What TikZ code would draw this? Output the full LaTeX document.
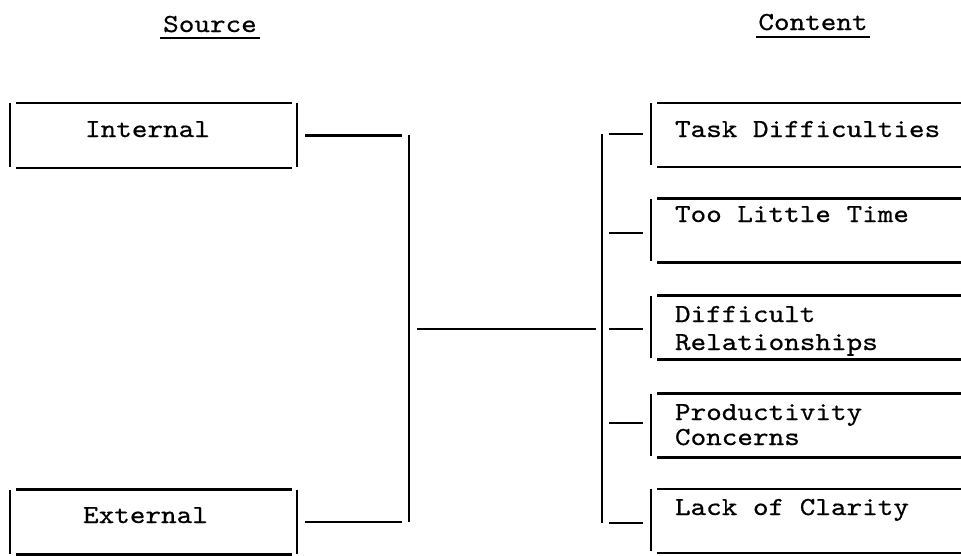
\documentclass[tikz,border=0pt]{standalone}
\usepackage{fontspec}
\setmainfont{Liberation Mono}
\newfontfamily\twfont{lmmono10-regular.otf}[FakeStretch=1.143, FakeBold=0.6]
\begin{document}
\begin{tikzpicture}[x=1pt,y=-1pt,
  box/.style={inner sep=0pt, outer sep=0pt, minimum width=287pt, minimum height=65pt},
  cbox/.style={inner sep=0pt, outer sep=0pt, minimum width=314pt, minimum height=64pt},
  hline/.style={line width=2.6pt, line cap=butt},
  vline/.style={line width=1.6pt, line cap=butt},
  lbl/.style={inner sep=0pt, outer sep=0pt, font=\twfont\fontsize{26}{28}\selectfont}]
\useasboundingbox[fill=white] (0,0) rectangle (961,555);

% headings
\node[lbl, anchor=base] (src) at (210,32) {Source};
\node[lbl, anchor=base] (cnt) at (813,30) {Content};
\draw[hline] ([xshift=-3pt,yshift=-6pt]src.base west) -- ([xshift=3pt,yshift=-6pt]src.base east);
\draw[hline] ([xshift=-2pt,yshift=-7pt]cnt.base west) -- ([xshift=2pt,yshift=-7pt]cnt.base east);

% source boxes
\node[box] (int) at (153.5,135.5) {};
\node[box] (ext) at (153.5,522) {};
\foreach \b in {int,ext}{
  \draw[hline] ([xshift=6pt]\b.north west) -- ([xshift=-5pt]\b.north east);
  \draw[hline] ([xshift=6pt]\b.south west) -- ([xshift=-5pt]\b.south east);
  \draw[vline] (\b.north west) -- ([yshift=1pt]\b.south west);
  \draw[vline] (\b.north east) -- ([yshift=1pt]\b.south east);
}
\node[lbl, anchor=base] (tint) at (147.5,137) {Internal};
\node[lbl, anchor=base] (text) at (145.5,523) {External};

% content boxes
\node[cbox] (c1) at (808,135) {};
\node[cbox] (c2) at (808,230.5) {};
\node[cbox] (c3) at (808,327.5) {};
\node[cbox] (c4) at (808,425.5) {};
\node[cbox] (c5) at (808,521) {};
\foreach \b in {c1,c2,c3,c4,c5}{
  \draw[hline] ([xshift=6pt]\b.north west) -- (\b.north east);
  \draw[hline] ([xshift=6pt]\b.south west) -- (\b.south east);
  \draw[vline] (\b.north west) -- ([yshift=2pt]\b.south west);
}
\node[lbl, anchor=base west] (t1) at (675,137) {Task Difficulties};
\node[lbl, anchor=base west] (t2) at (675,222) {Too Little Time};
\node[lbl, anchor=base west] (t3a) at (675,322) {Difficult};
\node[lbl, anchor=base west] (t3b) at (675,350) {Relationships};
\node[lbl, anchor=base west] (t4a) at (675,420) {Productivity};
\node[lbl, anchor=base west] (t4b) at (675,445) {Concerns};
\node[lbl, anchor=base west] (t5) at (675,515) {Lack of Clarity};

% connectors
\coordinate (lj1) at (409,135);
\coordinate (lj2) at (409,522);
\coordinate (rj1) at (602,134);
\coordinate (rj2) at (602,523);
\coordinate (ml) at (417,329);
\coordinate (mr) at (596,329);
\draw[hline] ([xshift=8pt]int.east) -- ([xshift=105pt]int.east);
\draw[hline] ([xshift=8pt]ext.east) -- ([xshift=105pt]ext.east);
\draw[vline] (lj1) -- (lj2);
\draw[hline] (ml) -- (mr);
\draw[vline] (rj1) -- (rj2);
\draw[hline] ([xshift=-42pt,yshift=1pt]c1.west) -- ([xshift=-8pt,yshift=1pt]c1.west);
\draw[hline] ([xshift=-42pt,yshift=-2.5pt]c2.west) -- ([xshift=-8pt,yshift=-2.5pt]c2.west);
\draw[hline] ([xshift=-42pt,yshift=-1.5pt]c3.west) -- ([xshift=-8pt,yshift=-1.5pt]c3.west);
\draw[hline] ([xshift=-42pt,yshift=2.5pt]c4.west) -- ([xshift=-8pt,yshift=2.5pt]c4.west);
\draw[hline] ([xshift=-42pt,yshift=-2pt]c5.west) -- ([xshift=-8pt,yshift=-2pt]c5.west);
\end{tikzpicture}
\end{document}
